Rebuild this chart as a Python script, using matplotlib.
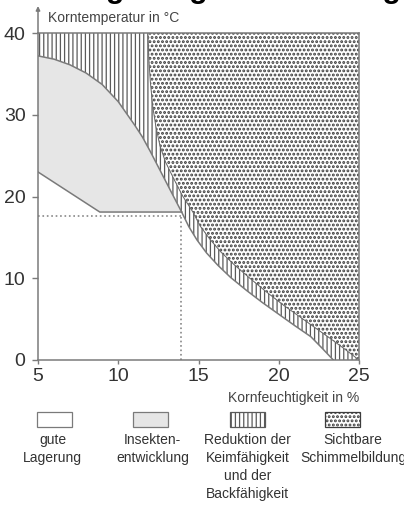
import numpy as np
import matplotlib
matplotlib.use('Agg')
import matplotlib.pyplot as plt
from matplotlib.patches import Polygon, Rectangle

plt.rcParams['font.family'] = ['Liberation Sans', 'DejaVu Sans']

# boundaries: x = Kornfeuchtigkeit (%), y = Korntemperatur (°C)
mold_x = [11.85, 11.9, 12.0, 12.15, 12.35, 12.6, 12.95, 13.45, 14.0, 14.65,
          15.1, 15.7, 16.4, 17.2, 18.2, 19.25, 20.3, 21.3, 22.3, 23.2, 24.1, 25.0]
mold_y = [40, 37, 34, 31, 28.5, 26.2, 24.2, 22.2, 20.1, 18.1,
          16.4, 14.8, 13.2, 11.7, 10.0, 8.3, 6.7, 5.3, 3.9, 2.65, 1.35, 0]

insect_top_x = [5, 6, 7, 8, 9, 10, 10.5, 11, 11.5, 12, 12.5, 13, 13.5, 13.95]
insect_top_y = [37.2, 36.8, 36.1, 35.1, 33.7, 31.6, 30.2, 28.8, 27.3, 25.5, 23.6, 21.7, 19.8, 18.1]
insect_low_x = [5, 8.85, 13.95]
insect_low_y = [23.0, 18.1, 18.1]

reduct_low_x = [13.95, 14.4, 14.9, 15.5, 16.2, 17.0, 18.0, 19.0, 20.0, 21.0, 22.0, 22.7, 23.4]
reduct_low_y = [18.1, 16.3, 14.7, 13.1, 11.6, 10.1, 8.5, 7.0, 5.6, 4.2, 2.85, 1.45, 0]

guide_x = 13.9
guide_y = 17.6

xticks = [5, 10, 15, 20, 25]
yticks = [0, 10, 20, 30, 40]

legend_labels = ['gute\nLagerung', 'Insekten-\nentwicklung',
                 'Reduktion der\nKeimfähigkeit\nund der\nBackfähigkeit',
                 'Sichtbare\nSchimmelbildung']

W, H = 404, 505
fig = plt.figure(figsize=(W / 100, H / 100), dpi=100)


def fx(px):
    return px / W


def fy(py):
    return 1 - py / H


ax = fig.add_axes([fx(38), fy(360), fx(359) - fx(38), fy(33) - fy(360)])
ax.set_xlim(5, 25)
ax.set_ylim(0, 40)

line_c = '#7a7a7a'
stripe_c = '#5a5a5a'
dot_c = '#3c3c3c'
stripe_lw = 0.9
dot_lw = 1.4
dot_hatch = '....'


def hatched(xs, ys, hatch, color, hlw, face='white'):
    with plt.rc_context({'hatch.linewidth': hlw}):
        p = Polygon(np.column_stack([xs, ys]), closed=True, facecolor=face,
                    edgecolor=color, lw=0, hatch=hatch)
    if hasattr(p, 'set_hatch_linewidth'):
        p.set_hatch_linewidth(hlw)
    return p


# stripes: everything right of the outer boundary
rx = [5] + insect_top_x + reduct_low_x[1:] + [25, 25]
ry = [40] + insect_top_y + reduct_low_y[1:] + [0, 40]
ax.add_patch(hatched(rx, ry, '||||', stripe_c, stripe_lw))

# mould
mx = mold_x + [25]
my = mold_y + [40]
ax.add_patch(hatched(mx, my, dot_hatch, dot_c, dot_lw))

# insects
ix = insect_top_x + insect_low_x[::-1]
iy = insect_top_y + insect_low_y[::-1]
ax.add_patch(Polygon(np.column_stack([ix, iy]), closed=True, facecolor='#e6e6e6', lw=0))

ax.plot(insect_top_x, insect_top_y, color=line_c, lw=1.1)
ax.plot(insect_low_x, insect_low_y, color=line_c, lw=1.1)
ax.plot(reduct_low_x, reduct_low_y, color=line_c, lw=1.1)
ax.plot(mold_x, mold_y, color='#666666', lw=0.7)

ax.plot([5, guide_x], [guide_y, guide_y], ls=':', color='#888888', lw=1.2)
ax.plot([guide_x, guide_x], [0, guide_y], ls=':', color='#888888', lw=1.2)

for s in ax.spines.values():
    s.set_color(line_c)
    s.set_linewidth(1.1)

ax.set_xticks(xticks)
ax.set_yticks(yticks)
ax.tick_params(axis='y', direction='out', length=4, width=1, color=line_c,
               labelsize=14, labelcolor='#333333', pad=5)
ax.tick_params(axis='x', direction='out', length=3, width=1, color=line_c,
               labelsize=14, labelcolor='#333333', pad=3)

# arrow on top of y axis
ax.annotate('', xy=(5, 43.3), xytext=(5, 40), annotation_clip=False,
            arrowprops=dict(arrowstyle='-|>', color=line_c, lw=1.1,
                            mutation_scale=6, shrinkA=0, shrinkB=0))

fig.text(fx(48), fy(18), 'Korntemperatur in °C', fontsize=10, color='#444444',
         ha='left', va='center')
fig.text(fx(359), fy(398), 'Kornfeuchtigkeit in %', fontsize=10, color='#444444',
         ha='right', va='center')

# cut-off title at the very top
fig.text(fx(71), 1 + 1.5 / H, 'Lagerung unter Bedingungen', fontsize=21.6,
         fontweight='bold', ha='left', va='baseline', color='black')

# legend
box_cx = [54, 150, 247, 342]
text_cx = [52.5, 152.5, 247.5, 353]
styles = [dict(face='white', hatch=None, c=line_c, hlw=stripe_lw),
          dict(face='#e6e6e6', hatch=None, c=line_c, hlw=stripe_lw),
          dict(face='white', hatch='||||', c=stripe_c, hlw=stripe_lw),
          dict(face='white', hatch=dot_hatch, c=dot_c, hlw=dot_lw)]
for cx, tx, st, lab in zip(box_cx, text_cx, styles, legend_labels):
    with plt.rc_context({'hatch.linewidth': st['hlw']}):
        r = Rectangle((fx(cx - 17), fy(427)), fx(35), fy(412) - fy(427),
                      transform=fig.transFigure, facecolor=st['face'],
                      edgecolor=st['c'], lw=0.9, hatch=st['hatch'])
    if hasattr(r, 'set_hatch_linewidth'):
        r.set_hatch_linewidth(st['hlw'])
    fig.patches.append(r)
    fig.text(fx(tx), fy(433), lab, fontsize=10, color='#333333', ha='center',
             va='top', linespacing=1.36, multialignment='center')

fig.savefig('out.png', dpi=100)
